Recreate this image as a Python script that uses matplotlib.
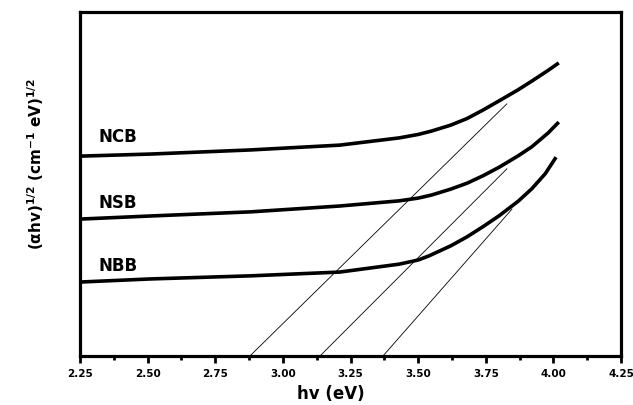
import numpy as np
import matplotlib
matplotlib.use("Agg")
import matplotlib.pyplot as plt
from matplotlib.ticker import MultipleLocator

# Photon energy (eV) and Tauc values (arbitrary units)
ncb_x = [2.25, 2.51, 2.88, 3.21, 3.43, 3.50, 3.55, 3.62, 3.68, 3.74, 3.80, 3.87, 3.92, 3.98, 4.02]
ncb_y = [5.81, 5.87, 5.99, 6.13, 6.34, 6.44, 6.54, 6.71, 6.90, 7.15, 7.42, 7.74, 7.99, 8.30, 8.52]

nsb_x = [2.25, 2.51, 2.88, 3.21, 3.43, 3.50, 3.55, 3.62, 3.68, 3.74, 3.80, 3.87, 3.92, 3.98, 4.02]
nsb_y = [3.98, 4.07, 4.19, 4.36, 4.51, 4.59, 4.68, 4.85, 5.02, 5.24, 5.49, 5.82, 6.08, 6.48, 6.80]

nbb_x = [2.25, 2.51, 2.88, 3.21, 3.43, 3.50, 3.54, 3.62, 3.68, 3.74, 3.80, 3.87, 3.92, 3.97, 4.01]
nbb_y = [2.15, 2.24, 2.33, 2.44, 2.67, 2.79, 2.91, 3.20, 3.46, 3.76, 4.08, 4.50, 4.86, 5.30, 5.78]

# linear extrapolations (band gap intercepts)
fit_ncb_x = [2.878, 3.828]
fit_ncb_y = [0.0, 7.33]
fit_nsb_x = [3.137, 3.828]
fit_nsb_y = [0.0, 5.44]
fit_nbb_x = [3.370, 3.847]
fit_nbb_y = [0.0, 4.27]

labels = ["NCB", "NSB", "NBB"]
label_y = [6.40, 4.48, 2.65]

plt.rcParams['mathtext.default'] = 'bf'

fig = plt.figure(figsize=(6.33, 4.06), dpi=100)
ax = fig.add_axes([80/633, 49/406, 541/633, 344/406])

for xs, ys in [(ncb_x, ncb_y), (nsb_x, nsb_y), (nbb_x, nbb_y)]:
    ax.plot(xs, ys, color='black', lw=2.6, solid_capstyle='butt', solid_joinstyle='round')

for xs, ys in [(fit_ncb_x, fit_ncb_y), (fit_nsb_x, fit_nsb_y), (fit_nbb_x, fit_nbb_y)]:
    ax.plot(xs, ys, color='black', lw=0.6)

for lab, yy in zip(labels, label_y):
    ax.text(2.39, yy, lab, fontsize=12, fontweight='bold', ha='center', va='center')

ax.set_xlim(2.25, 4.25)
ax.set_ylim(0, 10)
ax.xaxis.set_major_locator(MultipleLocator(0.25))
ax.xaxis.set_minor_locator(MultipleLocator(0.125))
ax.xaxis.set_major_formatter(matplotlib.ticker.FormatStrFormatter('%.2f'))
ax.set_yticks([])
ax.tick_params(axis='x', which='major', direction='out', length=5, width=2,
               labelsize=7.5, pad=4)
ax.tick_params(axis='x', which='minor', direction='out', length=3, width=2)
for lbl in ax.get_xticklabels():
    lbl.set_fontweight('bold')
for sp in ax.spines.values():
    sp.set_linewidth(2.3)

ax.set_xlabel('hv (eV)', fontsize=12, fontweight='bold')
ax.xaxis.set_label_coords(0.464, -0.08)
ax.set_ylabel(r'$(\alpha hv)^{1/2}\ (cm^{-1}\ eV)^{1/2}$', fontsize=11)
ax.yaxis.set_label_coords(-0.062, 0.56)

fig.savefig('out.png', dpi=100)
